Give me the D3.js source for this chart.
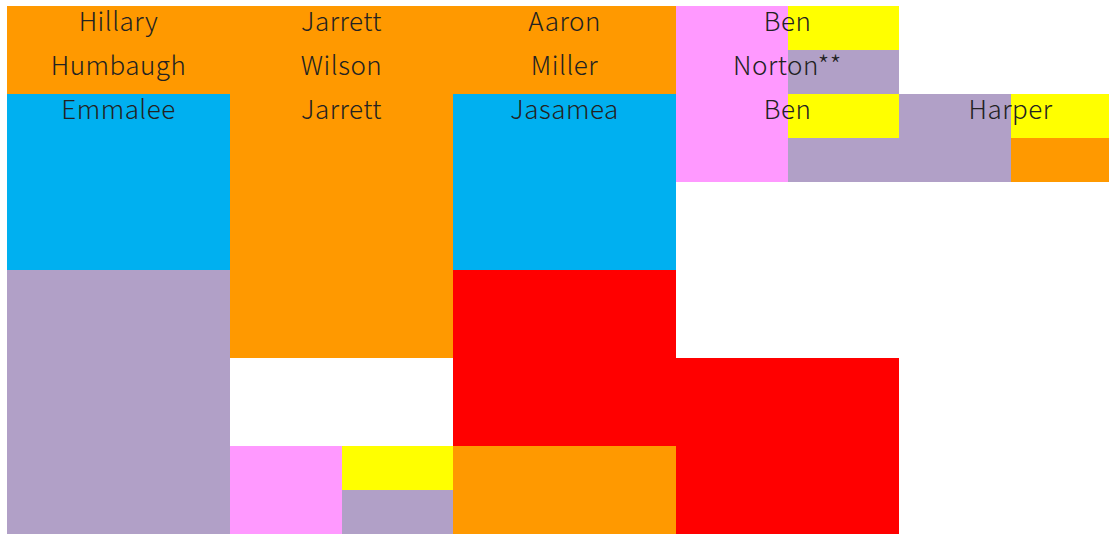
<!DOCTYPE html>
<html>
<head>
<meta charset="utf-8">
<script src="https://cdn.jsdelivr.net/npm/d3@7"></script>
<style>
  body { margin: 0; background: #fff; }
  svg { display: block; }
</style>
</head>
<body>
<div id="chart"></div>
<script>
// ---- data ----
var columns = [0, 1, 2, 3, 4];
var rows = d3.range(12);

// colour keys used by the blocks
var palette = {
    orange: "#FF9900",
    blue:   "#00B0F0",
    purple: "#B1A0C7",
    pink:   "#FF99FF",
    yellow: "#FFFF00",
    red:    "#FF0000"
};

// [column, first row, end row, part of column, colour]
var blocks = [
    [0, 0, 2,  "full",  "orange"],
    [0, 2, 6,  "full",  "blue"],
    [0, 6, 12, "full",  "purple"],
    [1, 0, 8,  "full",  "orange"],
    [1, 10, 12, "left", "pink"],
    [1, 10, 11, "right", "yellow"],
    [1, 11, 12, "right", "purple"],
    [2, 0, 2,  "full",  "orange"],
    [2, 2, 6,  "full",  "blue"],
    [2, 6, 10, "full",  "red"],
    [2, 10, 12, "full", "orange"],
    [3, 0, 4,  "left",  "pink"],
    [3, 0, 1,  "right", "yellow"],
    [3, 1, 2,  "right", "purple"],
    [3, 2, 3,  "right", "yellow"],
    [3, 3, 4,  "right", "purple"],
    [3, 8, 12, "full",  "red"],
    [4, 2, 4,  "left",  "purple"],
    [4, 2, 3,  "right", "yellow"],
    [4, 3, 4,  "right", "orange"]
];

// [column, row, text]
var labels = [
    [0, 0, "Hillary"], [0, 1, "Humbaugh"], [0, 2, "Emmalee"],
    [1, 0, "Jarrett"], [1, 1, "Wilson"],   [1, 2, "Jarrett"],
    [2, 0, "Aaron"],   [2, 1, "Miller"],   [2, 2, "Jasamea"],
    [3, 0, "Ben"],     [3, 1, "Norton**"], [3, 2, "Ben"],
    [4, 2, "Harper"]
];

function init() {
    var w = 1109;
    var h = 534;

    var x = d3.scaleBand().domain(columns).range([7, 7 + 223 * columns.length]);
    var y = d3.scaleBand().domain(rows).range([6, 6 + 44 * rows.length]);

    var svg = d3.select("#chart")
        .append("svg")
        .attr("width", w)
        .attr("height", h);

    var half = x.bandwidth() / 2;

    svg.selectAll("rect.block")
        .data(blocks)
        .enter()
        .append("rect")
        .attr("class", "block")
        .attr("x", function(d) { return x(d[0]) + (d[3] == "right" ? half : 0); })
        .attr("y", function(d) { return y(d[1]); })
        .attr("width", function(d) { return d[3] == "full" ? x.bandwidth() : half; })
        .attr("height", function(d) { return y(d[2] - 1) + y.bandwidth() - y(d[1]); })
        .attr("fill", function(d) { return palette[d[4]]; })
        .attr("shape-rendering", "crispEdges");

    svg.selectAll("text.name")
        .data(labels)
        .enter()
        .append("text")
        .attr("class", "name")
        .attr("x", function(d) { return x(d[0]) + half; })
        .attr("y", function(d) { return y(d[1]) + 25; })
        .attr("text-anchor", "middle")
        .attr("font-family", "'Noto Sans CJK JP', 'Noto Sans', sans-serif")
        .attr("font-weight", 300)
        .attr("font-size", "26px")
        .attr("letter-spacing", "0.5px")
        .attr("fill", "#222")
        .text(function(d) { return d[2]; });
}

window.onload = init;
</script>
</body>
</html>
